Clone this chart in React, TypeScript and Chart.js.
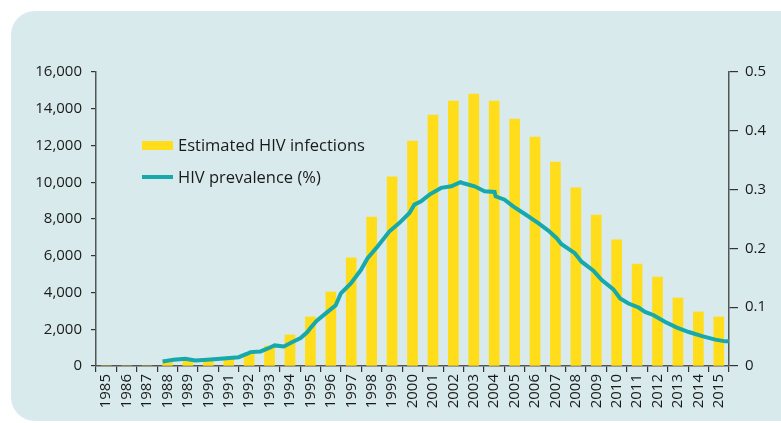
import React, { useEffect, useRef } from "react";
import { Chart, registerables } from "chart.js";

Chart.register(...registerables);

const years = [
  "1985", "1986", "1987", "1988", "1989", "1990", "1991", "1992", "1993", "1994",
  "1995", "1996", "1997", "1998", "1999", "2000", "2001", "2002", "2003", "2004",
  "2005", "2006", "2007", "2008", "2009", "2010", "2011", "2012", "2013", "2014", "2015",
];

const infections = [
  0, 0, 0, 180, 300, 320, 400, 690, 1090, 1690,
  2670, 4030, 5890, 8100, 10290, 12240, 13660, 14420, 14800, 14420,
  13440, 12460, 11100, 9690, 8220, 6860, 5550, 4840, 3700, 2940, 2670,
];

const prevalenceTime = [
  1987.76, 1988.3, 1988.87, 1989.36, 1989.94, 1990.59, 1991.49, 1991.91, 1992.07, 1992.56,
  1992.89, 1993.25, 1993.7, 1994.12, 1994.52, 1994.85, 1995.02, 1995.3, 1995.84, 1996.24,
  1996.49, 1996.98, 1997.47, 1997.8, 1998.29, 1998.86, 1999.35, 1999.85, 2000.09, 2000.42,
  2000.83, 2001.4, 2001.9, 2002.35, 2002.54, 2003.04, 2003.53, 2004.02, 2004.07, 2004.51,
  2004.93, 2005.5, 2006.16, 2006.65, 2007.06, 2007.3, 2007.95, 2008.28, 2008.86, 2009.27,
  2009.84, 2010.17, 2010.58, 2011.07, 2011.39, 2011.81, 2012.38, 2012.95, 2013.53, 2014.18,
  2014.83, 2015.33, 2015.49,
];

const prevalence = [
  0.0077, 0.0106, 0.0123, 0.0094, 0.0106, 0.0123, 0.015, 0.0209, 0.0236, 0.0248,
  0.0294, 0.035, 0.0333, 0.0407, 0.0475, 0.0578, 0.0653, 0.0765, 0.092, 0.1034,
  0.1234, 0.1405, 0.1632, 0.1832, 0.2031, 0.2287, 0.2431, 0.2602, 0.2744, 0.28,
  0.2915, 0.3029, 0.3056, 0.3125, 0.3103, 0.3056, 0.2971, 0.2961, 0.2885, 0.2829,
  0.2715, 0.2585, 0.2431, 0.2304, 0.2174, 0.2072, 0.1918, 0.1774, 0.1621, 0.1462,
  0.1303, 0.1149, 0.1063, 0.0995, 0.092, 0.0863, 0.0749, 0.0653, 0.0578, 0.0509,
  0.0448, 0.0419, 0.0419,
];

const leftTicks = [0, 2000, 4000, 6000, 8000, 10000, 12000, 14000, 16000];
const rightTicks = [0, 0.1, 0.2, 0.3, 0.4, 0.5];

const barLabel = "Estimated HIV infections";
const lineLabel = "HIV prevalence (%)";

const YELLOW = "#FFDD1A";
const TEAL = "#16A8AA";
const TEXT = "#1a1a1a";
const AXIS = "#555555";
const FONT = "'Open Sans', 'Liberation Sans', sans-serif";

export default function App() {
  const canvasRef = useRef<HTMLCanvasElement | null>(null);

  useEffect(() => {
    const canvas = canvasRef.current;
    if (!canvas) return;
    const font = { family: FONT, size: 15 };
    const chart = new Chart(canvas, {
      type: "bar",
      data: {
        labels: years,
        datasets: [
          {
            type: "line",
            label: lineLabel,
            data: prevalenceTime.map((t, i) => ({ x: t, y: prevalence[i] })),
            xAxisID: "xl",
            yAxisID: "y2",
            borderColor: TEAL,
            borderWidth: 4,
            pointRadius: 0,
            tension: 0,
            fill: false,
            order: 0,
          } as any,
          {
            type: "bar",
            label: barLabel,
            data: infections,
            xAxisID: "x",
            yAxisID: "y",
            backgroundColor: YELLOW,
            borderWidth: 0,
            grouped: false,
            barThickness: 10,
            order: 1,
          } as any,
        ],
      },
      options: {
        responsive: false,
        animation: false,
        devicePixelRatio: 1,
        layout: { padding: { top: 72, left: 0, right: 0, bottom: 0 } },
        plugins: { legend: { display: false }, tooltip: { enabled: false } },
        scales: {
          x: {
            type: "category",
            position: "bottom",
            offset: true,
            grid: {
              offset: true,
              drawOnChartArea: false,
              drawTicks: true,
              tickLength: 6,
              color: "#333333",
              lineWidth: 1.2,
            },
            border: { color: AXIS, width: 1.5 },
            ticks: {
              color: TEXT,
              font,
              minRotation: 90,
              maxRotation: 90,
              autoSkip: false,
              padding: 2,
            },
            afterFit: (s: any) => {
              s.height = 57;
            },
          },
          xl: {
            type: "linear",
            display: false,
            min: 1984.5,
            max: 2015.5,
            offset: false,
          },
          y: {
            type: "linear",
            position: "left",
            min: 0,
            max: 16000,
            afterBuildTicks: (s: any) => {
              s.ticks = leftTicks.map((v) => ({ value: v }));
            },
            grid: {
              drawOnChartArea: false,
              drawTicks: true,
              tickLength: 5,
              color: "#333333",
              lineWidth: 1.2,
            },
            border: { color: AXIS, width: 1.5 },
            ticks: {
              color: TEXT,
              font,
              padding: 9,
              callback: (v: any) => Number(v).toLocaleString("en-US"),
            },
            afterFit: (s: any) => {
              s.width = 96;
            },
          },
          y2: {
            type: "linear",
            position: "right",
            min: 0,
            max: 0.5,
            afterBuildTicks: (s: any) => {
              s.ticks = rightTicks.map((v) => ({ value: v }));
            },
            grid: {
              drawOnChartArea: false,
              drawTicks: true,
              tickLength: 9,
              color: "#333333",
              lineWidth: 1.2,
            },
            border: { color: AXIS, width: 1.5 },
            ticks: {
              color: TEXT,
              font,
              padding: 7,
              callback: (v: any) => String(Math.round(Number(v) * 10) / 10),
            },
            afterFit: (s: any) => {
              s.width = 52;
            },
          },
        },
      },
    });
    return () => chart.destroy();
  }, []);

  return (
    <div
      style={{
        position: "fixed",
        left: 0,
        top: 0,
        width: 781,
        height: 423,
        background: "#ffffff",
        overflow: "hidden",
        fontFamily: FONT,
      }}
    >
      <div
        style={{
          position: "absolute",
          left: 11,
          top: 11,
          width: 800,
          height: 410,
          borderRadius: 24,
          background: "#d8eaec",
        }}
      />
      <canvas
        ref={canvasRef}
        width={781}
        height={423}
        style={{ position: "absolute", left: 0, top: 0, width: 781, height: 423 }}
      />
      <div style={{ position: "absolute", left: 142, top: 135, fontSize: 16.5, color: TEXT, lineHeight: "20px" }}>
        <div style={{ display: "flex", alignItems: "center", height: 20 }}>
          <span style={{ display: "inline-block", width: 31, height: 9, background: YELLOW, marginRight: 5 }} />
          <span>{barLabel}</span>
        </div>
        <div style={{ display: "flex", alignItems: "center", height: 20, marginTop: 12 }}>
          <span style={{ display: "inline-block", width: 31, height: 4, background: TEAL, marginRight: 5 }} />
          <span>{lineLabel}</span>
        </div>
      </div>
    </div>
  );
}
